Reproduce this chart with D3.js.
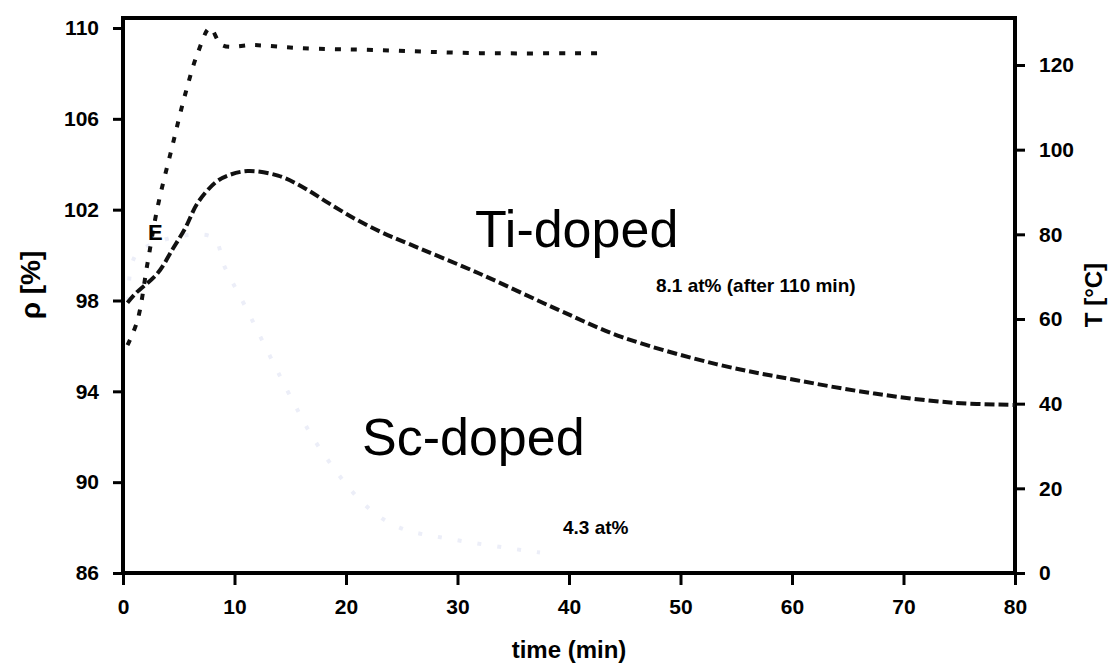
<!DOCTYPE html>
<html>
<head>
<meta charset="utf-8">
<script src="https://cdn.jsdelivr.net/npm/d3@7"></script>
<style>
  body { margin: 0; background: #fff; }
  svg { display: block; font-family: "Liberation Sans", Arial, sans-serif; }
  .tick text { font-weight: bold; font-size: 21px; fill: #000; }
  .tick line { stroke: #000; stroke-width: 3px; }
</style>
</head>
<body>
<script>
// time (min)
var xTicks = [0, 10, 20, 30, 40, 50, 60, 70, 80];
var rhoTicks = [86, 90, 94, 98, 102, 106, 110];
var tempTicks = [0, 20, 40, 60, 80, 100, 120];

// Ti-doped relative density [%] vs time
var tiTime = [0.4, 1.1, 3.1, 4.5, 5.6, 6.7, 8.3, 9.4, 11.2, 13.9, 16.1, 18.4, 20.8, 23.2, 25.6, 31.9, 39.0, 44.7, 53.2, 60.3, 67.4, 74.4, 80];
var tiRho  = [97.9, 98.3, 99.2, 100.3, 101.2, 102.3, 103.2, 103.5, 103.7, 103.5, 103.0, 102.3, 101.6, 101.0, 100.5, 99.2, 97.6, 96.4, 95.2, 94.5, 93.9, 93.5, 93.4];

// Sc-doped relative density [%] (faint curve)
var scTime = [0.5, 1.3, 8.0, 9.1, 10.9, 15.2, 17.5, 21.7, 24.8, 29.3, 37.4];
var scRho  = [98.0, 100.1, 100.8, 99.5, 97.8, 93.6, 91.6, 89.0, 88.0, 87.5, 86.9];

// temperature [°C]
var tTime = [0.4, 1.3, 2.2, 3.1, 4.4, 5.6, 6.7, 7.8, 8.9, 11.8, 15.9, 23.0, 32.0, 42.8];
var tTemp = [53.8, 59.7, 73.2, 86.4, 100.6, 113.3, 122.8, 128.7, 124.7, 124.7, 124.0, 123.5, 122.8, 122.8];

var width = 1113,
    height = 668;

var svg = d3.select("body").append("svg")
    .attr("width", width)
    .attr("height", height);

var x = d3.scaleLinear().domain([0, 80]).range([123, 1015]);
var yL = d3.scaleLinear().domain([86, 110.44]).range([573, 18]);
var yR = d3.scaleLinear().domain([0, 131.1]).range([573, 18]);

// axes
svg.append("g")
    .attr("transform", "translate(0,573)")
    .call(d3.axisBottom(x).tickValues(xTicks).tickSize(12).tickPadding(14))
    .call(function(g) { g.select(".domain").remove(); });

svg.append("g")
    .attr("transform", "translate(123,0)")
    .call(d3.axisLeft(yL).tickValues(rhoTicks).tickSize(10).tickPadding(14))
    .call(function(g) { g.select(".domain").remove(); });

svg.append("g")
    .attr("transform", "translate(1015,0)")
    .call(d3.axisRight(yR).tickValues(tempTicks).tickSize(10).tickPadding(14))
    .call(function(g) { g.select(".domain").remove(); });

// frame
svg.append("rect")
    .attr("x", x(0))
    .attr("y", yL(110.44))
    .attr("width", x(80) - x(0))
    .attr("height", yL(86) - yL(110.44))
    .attr("fill", "none")
    .attr("stroke", "#000")
    .attr("stroke-width", 4);

// axis titles
svg.append("text")
    .attr("x", x(40))
    .attr("y", 658)
    .attr("text-anchor", "middle")
    .style("font-weight", "bold")
    .style("font-size", "24px")
    .text("time (min)");

svg.append("text")
    .attr("transform", "translate(40,285) rotate(-90)")
    .attr("text-anchor", "middle")
    .style("font-weight", "bold")
    .style("font-size", "28px")
    .text("ρ [%]");

svg.append("text")
    .attr("transform", "translate(1102,295) rotate(-90)")
    .attr("text-anchor", "middle")
    .style("font-weight", "bold")
    .style("font-size", "24px")
    .text("T [°C]");

// curves
var lineL = d3.line()
    .x(function(d) { return x(d[0]); })
    .y(function(d) { return yL(d[1]); })
    .curve(d3.curveCatmullRom);

var lineR = d3.line()
    .x(function(d) { return x(d[0]); })
    .y(function(d) { return yR(d[1]); })
    .curve(d3.curveCatmullRom);

svg.append("path")
    .datum(d3.zip(scTime, scRho))
    .attr("d", lineL)
    .attr("fill", "none")
    .attr("stroke", "#eceef8")
    .attr("stroke-width", 4)
    .attr("stroke-dasharray", "4,16");

svg.append("path")
    .datum(d3.zip(tTime, tTemp))
    .attr("d", lineR)
    .attr("fill", "none")
    .attr("stroke", "#111")
    .attr("stroke-width", 4)
    .attr("stroke-dasharray", "6,10");

svg.append("path")
    .datum(d3.zip(tiTime, tiRho))
    .attr("d", lineL)
    .attr("fill", "none")
    .attr("stroke", "#111")
    .attr("stroke-width", 4)
    .attr("stroke-dasharray", "10,4");

// labels inside the plot
svg.append("text")
    .attr("x", 475).attr("y", 247)
    .style("font-size", "52px")
    .text("Ti-doped");

svg.append("text")
    .attr("x", 362).attr("y", 455)
    .style("font-size", "52px")
    .text("Sc-doped");

svg.append("text")
    .attr("x", 656).attr("y", 292)
    .style("font-size", "19px")
    .style("font-weight", "bold")
    .text("8.1 at% (after 110 min)");

svg.append("text")
    .attr("x", 563).attr("y", 534)
    .style("font-size", "19px")
    .style("font-weight", "bold")
    .text("4.3 at%");

svg.append("text")
    .attr("x", 148).attr("y", 240)
    .style("font-size", "22px")
    .style("font-weight", "bold")
    .text("E");
</script>
</body>
</html>
